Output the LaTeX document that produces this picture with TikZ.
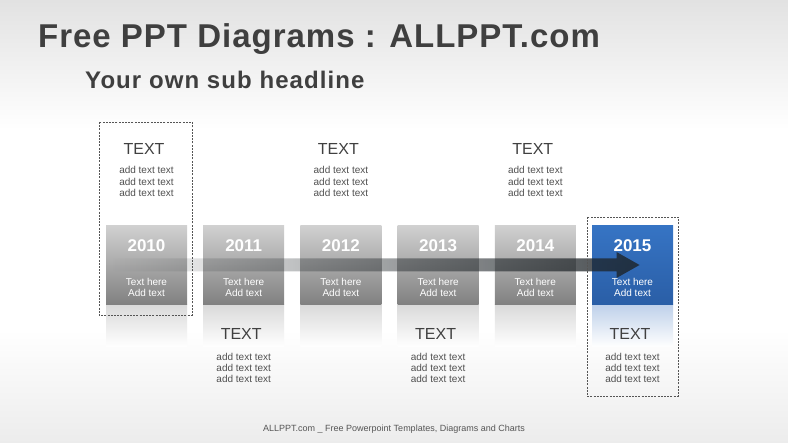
\documentclass[tikz,border=0pt]{standalone}
\usepackage{fontspec}
\setmainfont{Liberation Sans}
\usetikzlibrary{fadings}
\definecolor{titlec}{HTML}{3F3F3F}
\definecolor{txtc}{HTML}{404040}
\definecolor{smallc}{HTML}{505050}
\definecolor{bgtop}{HTML}{E2E2E2}
\definecolor{bgbot}{HTML}{ECECEC}
\definecolor{boxtop}{HTML}{D0D0D0}
\definecolor{boxbot}{HTML}{808080}
\definecolor{bluetop}{HTML}{3674C4}
\definecolor{bluebot}{HTML}{2A5EA6}
\definecolor{refgray}{HTML}{DADADA}
\definecolor{refblue}{HTML}{BFD1EA}
\definecolor{arrowc}{HTML}{1E2428}
\definecolor{dashc}{HTML}{555555}
\definecolor{footc}{HTML}{555555}
\tikzfading[name=arrowfade, left color=transparent!100, middle color=transparent!45, right color=transparent!18]
\tikzset{
  yearbox/.style={rectangle, minimum width=81pt, minimum height=79pt, inner sep=0pt, top color=boxtop, bottom color=boxbot, draw=none},
  bluebox/.style={rectangle, minimum width=81pt, minimum height=79pt, inner sep=0pt, top color=bluetop, bottom color=bluebot, draw=none},
  yearlbl/.style={anchor=base, text=white, font=\bfseries\fontsize{17}{20}\selectfont, inner sep=0pt},
  sublbl/.style={anchor=base, text=white, font=\fontsize{10}{12}\selectfont, inner sep=0pt},
  headlbl/.style={anchor=base, text=txtc, font=\fontsize{16}{19}\selectfont, inner sep=0pt},
  addlbl/.style={anchor=base, text=smallc, font=\fontsize{10}{12}\selectfont, inner sep=0pt},
  selframe/.style={draw=dashc, line width=0.6pt, dash pattern=on 2pt off 1.2pt},
}
\begin{document}
\begin{tikzpicture}[x=1pt,y=-1pt]
\useasboundingbox (0,0) rectangle (788,443);
% background
\fill[white] (0,0) rectangle (788,443);
\shade[top color=bgtop, bottom color=white] (0,0) rectangle (788,130);
\shade[top color=white, bottom color=bgbot] (0,330) rectangle (788,443);
% titles
\node[anchor=base west, inner sep=0pt, text=titlec, font=\bfseries\fontsize{33}{36}\selectfont\addfontfeature{LetterSpace=3}] (title) at (38,48) {Free PPT Diagrams : ALLPPT.com};
\node[anchor=base west, inner sep=0pt, text=titlec, font=\bfseries\fontsize{24}{27}\selectfont\addfontfeature{LetterSpace=4.5}] (subtitle) at (85,89) {Your own sub headline};
% reflections
\foreach \i in {0,...,4}{
  \shade[top color=refgray, bottom color=white] (106+97.2*\i,305) rectangle (187+97.2*\i,347);
}
\shade[top color=refblue, bottom color=white] (592,305) rectangle (673,347);
% boxes
\foreach \i/\y in {0/2010,1/2011,2/2012,3/2013,4/2014}{
  \node[yearbox] (b\y) at (146.5+97.2*\i,265.5) {};
}
\node[bluebox] (b2015) at (632.5,265.5) {};
\foreach \i/\y in {0/2010,1/2011,2/2012,3/2013,4/2014,5/2015}{
  \node[yearlbl] (y\y) at (146.5+97.2*\i,251.5) {\y};
  \node[sublbl] (t\y) at (146.5+97.2*\i,286) {Text here};
  \node[sublbl] (a\y) at (146.5+97.2*\i,297) {Add text};
}
% arrow
\coordinate (arrS) at (112,265);
\coordinate (arrH) at (617,265);
\coordinate (arrE) at (640,265);
\fill[arrowc, path fading=arrowfade] ([yshift=6.5pt]arrS) -- ([yshift=6.5pt]arrH) -- ([yshift=13pt]arrH) -- (arrE) -- ([yshift=-13pt]arrH) -- ([yshift=-6.5pt]arrH) -- ([yshift=-6.5pt]arrS) -- cycle;
% top texts
\foreach \i/\n in {0/p1,2/p3,4/p5}{
  \node[headlbl] (h\n) at (144+97.2*\i,155) {TEXT};
  \node[addlbl] (l1\n) at (146.5+97.2*\i,174) {add text text};
  \node[addlbl] (l2\n) at (146.5+97.2*\i,185.5) {add text text};
  \node[addlbl] (l3\n) at (146.5+97.2*\i,197) {add text text};
}
% bottom texts
\foreach \i/\n in {1/p2,3/p4,5/p6}{
  \node[headlbl] (h\n) at (144+97.2*\i,340) {TEXT};
  \node[addlbl] (l1\n) at (146.5+97.2*\i,361) {add text text};
  \node[addlbl] (l2\n) at (146.5+97.2*\i,372) {add text text};
  \node[addlbl] (l3\n) at (146.5+97.2*\i,383) {add text text};
}
% selection frames
\draw[selframe] (99,122) rectangle (192,315);
\draw[selframe] (587,217) rectangle (678,396);
% footer
\node[anchor=base, inner sep=0pt, text=footc, font=\fontsize{9}{11}\selectfont] (footer) at (394,432) {ALLPPT.com \_ Free Powerpoint Templates, Diagrams and Charts};
\end{tikzpicture}
\end{document}
